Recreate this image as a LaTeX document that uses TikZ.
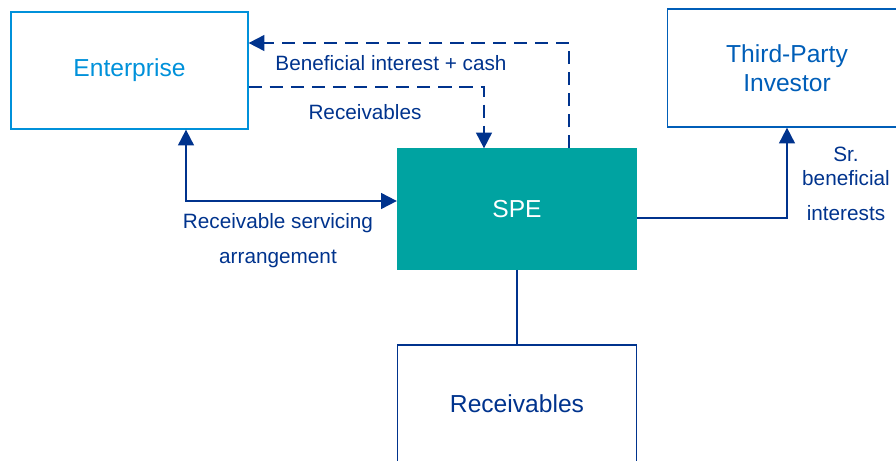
\documentclass[tikz,border=0pt]{standalone}
\usepackage{fontspec}
\setmainfont{Liberation Sans}
\usetikzlibrary{arrows.meta}
\definecolor{entblue}{HTML}{0091DA}
\definecolor{midblue}{HTML}{005EB8}
\definecolor{darkblue}{HTML}{00338D}
\definecolor{speteal}{HTML}{00A3A1}

\begin{document}
\begin{tikzpicture}[
  every node/.style={font=\fontsize{11.8pt}{13.7pt}\selectfont, text=darkblue, inner sep=0pt},
  party/.style={draw, minimum width=4.78cm, minimum height=2.36cm, align=center,
    font=\fontsize{14pt}{16.5pt}\selectfont, line width=0.7pt},
  flow/.style={darkblue, line width=1.1pt, -{Triangle[length=9pt,width=9pt]}},
  flowdash/.style={flow, dash pattern=on 7.5pt off 4.5pt}
]
  \useasboundingbox (0,0) rectangle (17.92,-9.2);

  % parties
  \node[party, draw=entblue, text=entblue, minimum width=4.74cm, minimum height=2.34cm] (ent) at (2.59,-1.41) {Enterprise};
  \node[party, draw=midblue, text=midblue] (tpi) at (15.74,-1.36) {Third-Party\\Investor};
  \node[party, draw=speteal, fill=speteal, text=white, minimum height=2.4cm] (spe) at (10.34,-4.18) {SPE};
  \node[party, draw=darkblue] (rec) at (10.34,-8.08) {Receivables};

  % flows between the parties
  \draw[flowdash] ([xshift=1.04cm]spe.north) |- ([yshift=0.55cm]ent.east);
  \draw[flowdash] ([yshift=-0.33cm]ent.east) -| ([xshift=-0.66cm]spe.north);
  \draw[flow, {Triangle[length=9pt,width=9pt]}-{Triangle[length=9pt,width=9pt]}]
    ([xshift=1.13cm]ent.south) |- ([yshift=0.16cm]spe.west);
  \draw[flow] ([yshift=-0.18cm]spe.east) -| (tpi.south);
  \draw[darkblue, line width=0.8pt] (spe.south) -- (rec.north);

  % labels
  \node[anchor=base] (benlbl) at (7.82,-1.40) {Beneficial interest + cash};
  \node[anchor=base] (reclbl) at (7.3,-2.38) {Receivables};
  \node[anchor=north, align=center] (svclbl) at (5.56,-4.26) {Receivable servicing\\[6.2pt]arrangement};
  \node[anchor=north, align=center] (srlbl) at (16.92,-2.94) {Sr.\\beneficial\\[6.2pt]interests};
\end{tikzpicture}
\end{document}
